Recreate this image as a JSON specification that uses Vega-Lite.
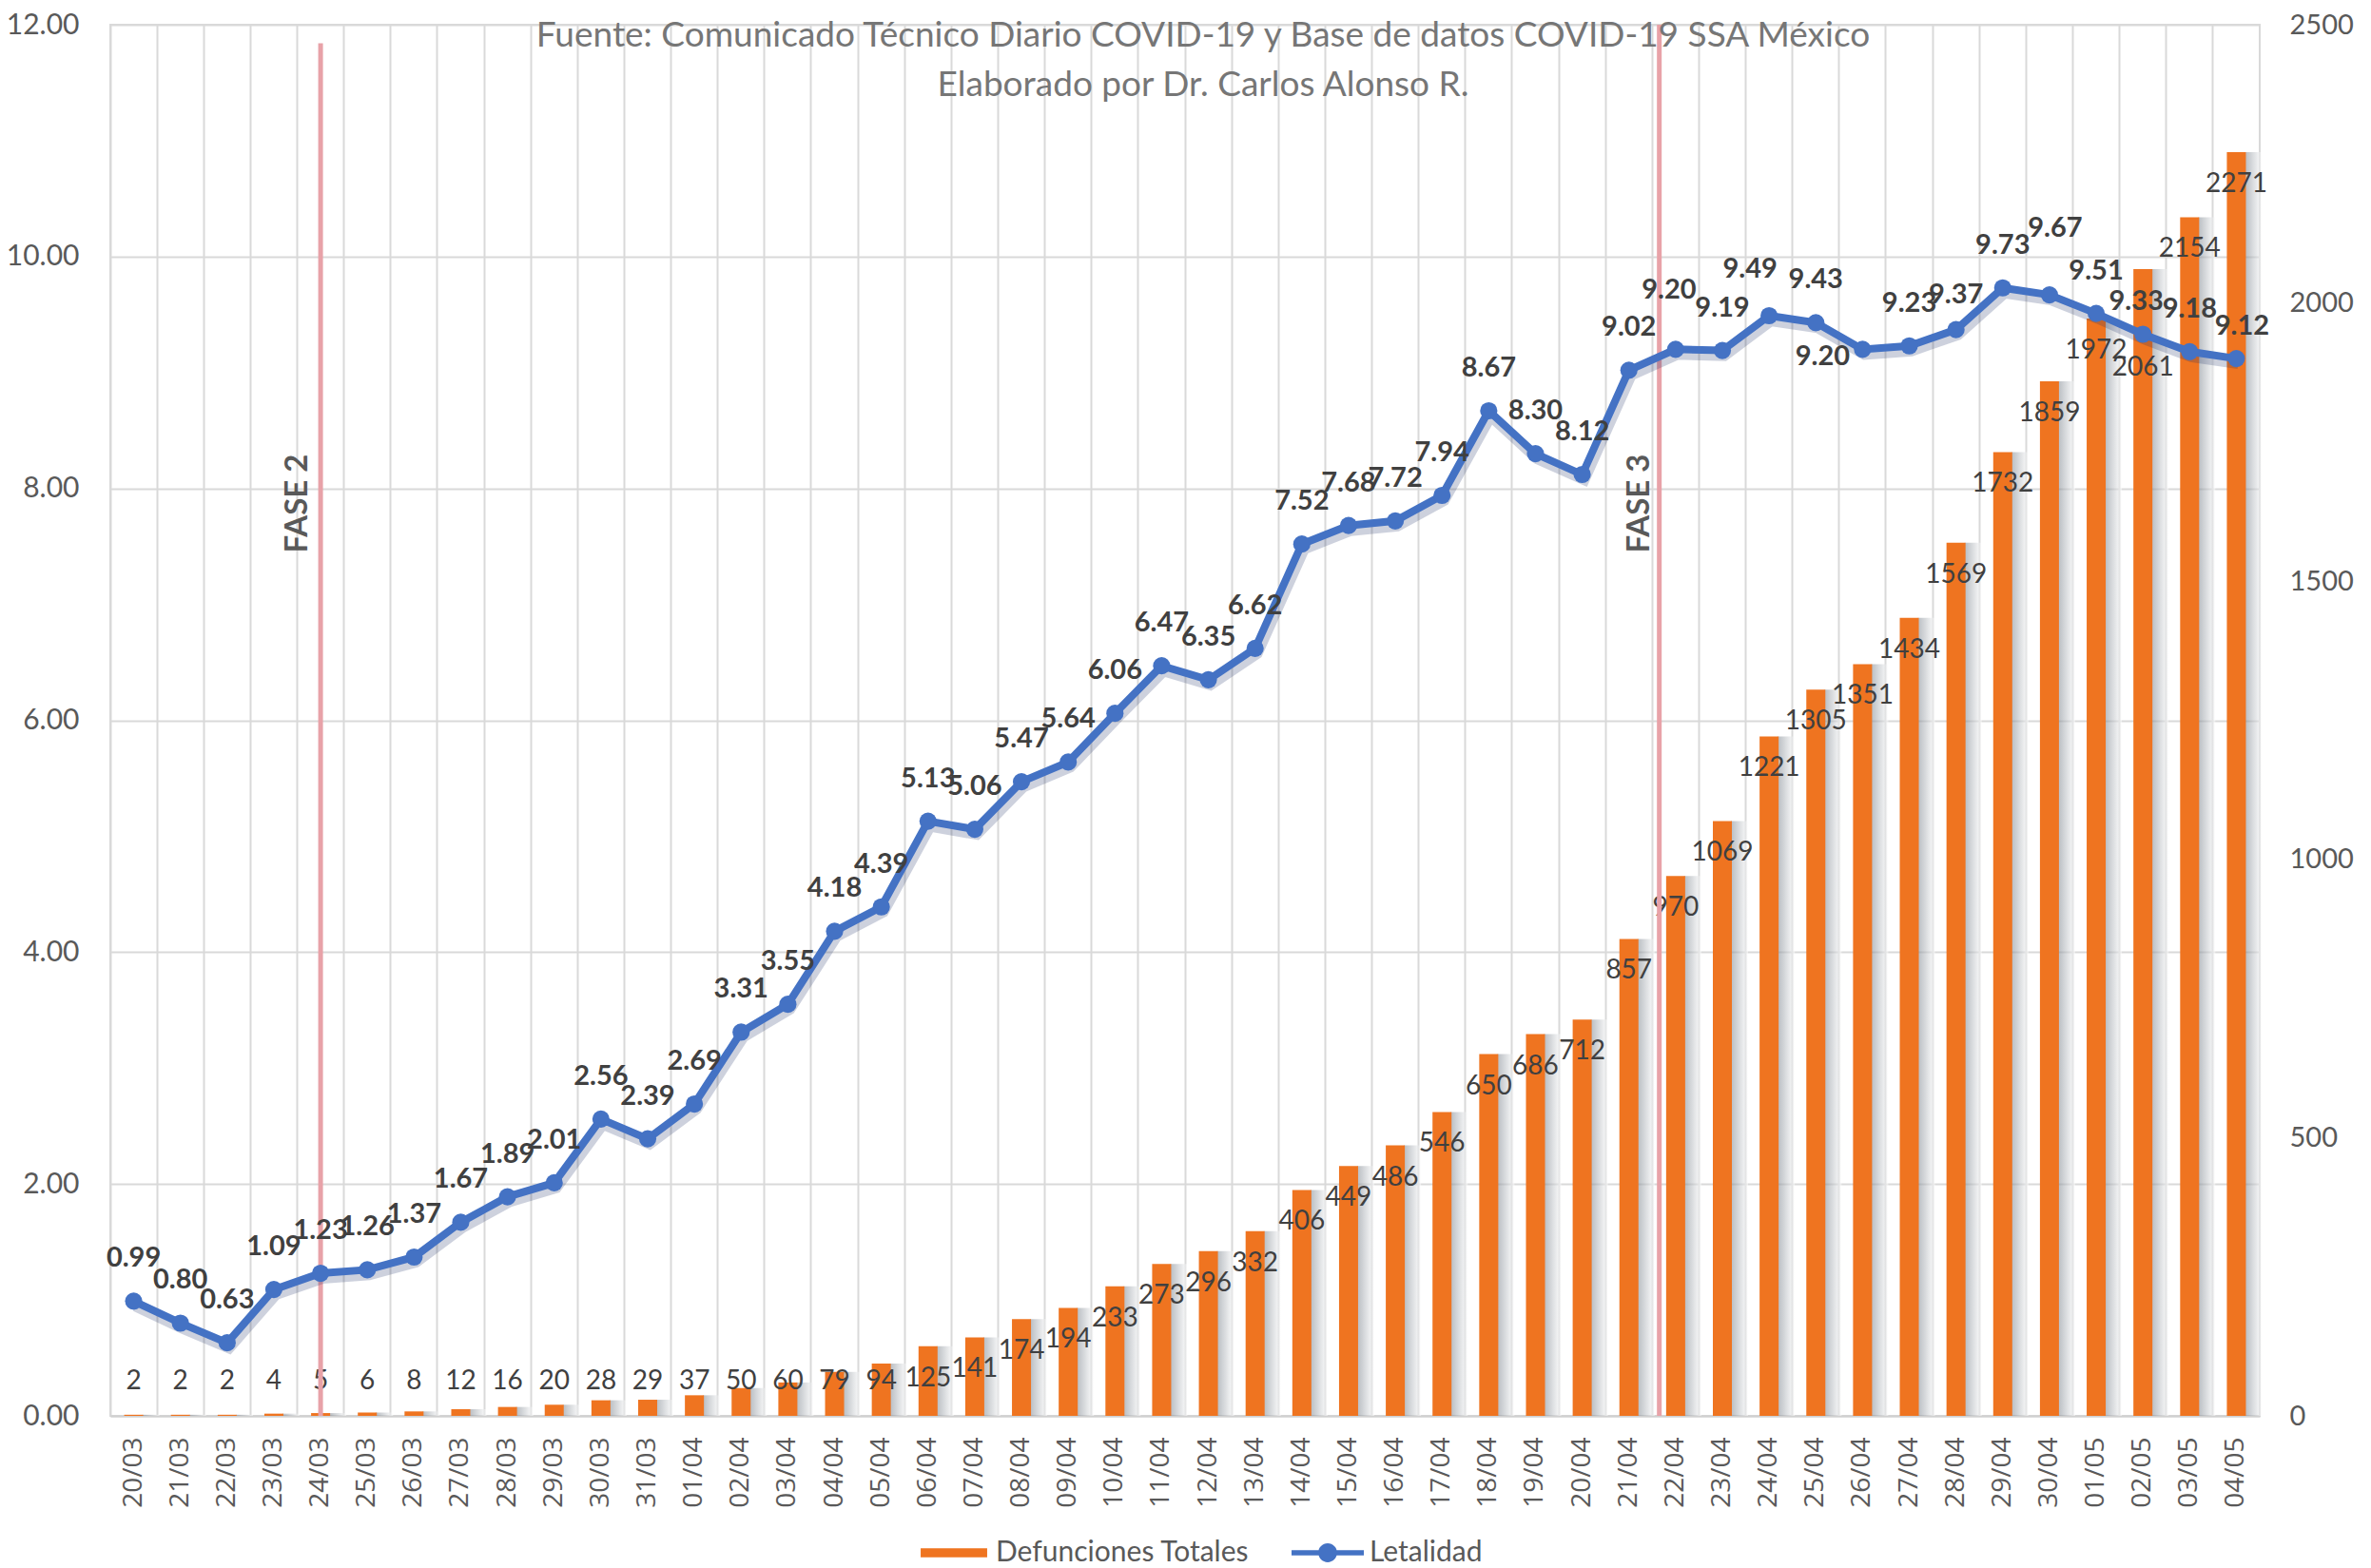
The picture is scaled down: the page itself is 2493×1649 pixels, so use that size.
{
  "$schema": "https://vega.github.io/schema/vega-lite/v6.json",
  "width": 2260,
  "height": 1463,
  "autosize": "none",
  "padding": {"left": 116, "top": 26, "right": 117, "bottom": 160},
  "background": "white",
  "config": {
    "font": "Lato",
    "view": {"stroke": "#d9d9d9", "strokeWidth": 2},
    "axis": {"labelColor": "#595959", "title": null, "ticks": false}
  },
  "title": {
    "text": ["Fuente: Comunicado Técnico Diario COVID-19 y Base de datos COVID-19 SSA México", "Elaborado por Dr. Carlos Alonso R."],
    "font": "Lato",
    "fontSize": 37,
    "fontWeight": "normal",
    "color": "#767676",
    "lineHeight": 52,
    "anchor": "middle",
    "baseline": "top",
    "offset": -98,
    "dx": 19
  },
  "datasets": {
    "main": [
      {"fecha": "20/03", "def": 2, "let": 0.99},
      {"fecha": "21/03", "def": 2, "let": 0.80},
      {"fecha": "22/03", "def": 2, "let": 0.63},
      {"fecha": "23/03", "def": 4, "let": 1.09},
      {"fecha": "24/03", "def": 5, "let": 1.23},
      {"fecha": "25/03", "def": 6, "let": 1.26},
      {"fecha": "26/03", "def": 8, "let": 1.37},
      {"fecha": "27/03", "def": 12, "let": 1.67},
      {"fecha": "28/03", "def": 16, "let": 1.89},
      {"fecha": "29/03", "def": 20, "let": 2.01},
      {"fecha": "30/03", "def": 28, "let": 2.56},
      {"fecha": "31/03", "def": 29, "let": 2.39},
      {"fecha": "01/04", "def": 37, "let": 2.69},
      {"fecha": "02/04", "def": 50, "let": 3.31},
      {"fecha": "03/04", "def": 60, "let": 3.55},
      {"fecha": "04/04", "def": 79, "let": 4.18},
      {"fecha": "05/04", "def": 94, "let": 4.39},
      {"fecha": "06/04", "def": 125, "let": 5.13},
      {"fecha": "07/04", "def": 141, "let": 5.06},
      {"fecha": "08/04", "def": 174, "let": 5.47},
      {"fecha": "09/04", "def": 194, "let": 5.64},
      {"fecha": "10/04", "def": 233, "let": 6.06},
      {"fecha": "11/04", "def": 273, "let": 6.47},
      {"fecha": "12/04", "def": 296, "let": 6.35},
      {"fecha": "13/04", "def": 332, "let": 6.62},
      {"fecha": "14/04", "def": 406, "let": 7.52},
      {"fecha": "15/04", "def": 449, "let": 7.68},
      {"fecha": "16/04", "def": 486, "let": 7.72},
      {"fecha": "17/04", "def": 546, "let": 7.94},
      {"fecha": "18/04", "def": 650, "let": 8.67},
      {"fecha": "19/04", "def": 686, "let": 8.30},
      {"fecha": "20/04", "def": 712, "let": 8.12},
      {"fecha": "21/04", "def": 857, "let": 9.02},
      {"fecha": "22/04", "def": 970, "let": 9.20},
      {"fecha": "23/04", "def": 1069, "let": 9.19},
      {"fecha": "24/04", "def": 1221, "let": 9.49},
      {"fecha": "25/04", "def": 1305, "let": 9.43},
      {"fecha": "26/04", "def": 1351, "let": 9.20},
      {"fecha": "27/04", "def": 1434, "let": 9.23},
      {"fecha": "28/04", "def": 1569, "let": 9.37},
      {"fecha": "29/04", "def": 1732, "let": 9.73},
      {"fecha": "30/04", "def": 1859, "let": 9.67},
      {"fecha": "01/05", "def": 1972, "let": 9.51},
      {"fecha": "02/05", "def": 2061, "let": 9.33},
      {"fecha": "03/05", "def": 2154, "let": 9.18},
      {"fecha": "04/05", "def": 2271, "let": 9.12}
    ],
    "fases": [
      {"fecha": "24/03", "fase": "FASE 2", "top": 11.84, "pos": 7.87},
      {"fecha": "22/04", "fase": "FASE 3", "top": 12, "pos": 7.87}
    ]
  },
  "data": {"name": "main"},
  "encoding": {
    "x": {
      "field": "fecha",
      "type": "nominal",
      "sort": null,
      "scale": {
        "domain": ["20/03","21/03","22/03","23/03","24/03","25/03","26/03","27/03","28/03","29/03","30/03","31/03","01/04","02/04","03/04","04/04","05/04","06/04","07/04","08/04","09/04","10/04","11/04","12/04","13/04","14/04","15/04","16/04","17/04","18/04","19/04","20/04","21/04","22/04","23/04","24/04","25/04","26/04","27/04","28/04","29/04","30/04","01/05","02/05","03/05","04/05"],
        "paddingInner": 0,
        "paddingOuter": 0
      },
      "axis": {
        "labelAngle": 270,
        "labelFont": "Open Sans",
        "labelFontSize": 28,
        "labelPadding": 22,
        "bandPosition": 0,
        "grid": true,
        "gridColor": "#d9d9d9",
        "gridWidth": 2,
        "domainColor": "#d0d0d0",
        "domainWidth": 2,
        "ticks": false
      }
    }
  },
  "layer": [
    {
      "encoding": {
        "y": {
          "field": "def",
          "type": "quantitative",
          "scale": {"domain": [0, 2500], "nice": false},
          "axis": {
            "orient": "right",
            "values": [0, 500, 1000, 1500, 2000, 2500],
            "format": "d",
            "grid": false,
            "domain": false,
            "labelFontSize": 29,
            "labelPadding": 31
          }
        }
      },
      "layer": [
        {
          "mark": {
            "type": "bar",
            "width": 18,
            "xOffset": 18,
            "opacity": 0.55,
            "color": {"gradient": "linear", "x1": 0, "x2": 1, "y1": 0, "y2": 0, "stops": [{"offset": 0, "color": "#7f8790"}, {"offset": 1, "color": "#ffffff"}]}
          }
        },
        {
          "mark": {"type": "bar", "width": 20},
          "encoding": {
            "color": {
              "datum": "Defunciones Totales",
              "scale": {"domain": ["Defunciones Totales", "Letalidad"], "range": ["#EF7420", "#4472C4"]},
              "legend": {
                "orient": "none",
                "legendX": 849,
                "legendY": 1569,
                "direction": "horizontal",
                "title": null,
                "symbolSize": 5776,
                "symbolStrokeWidth": 0,
                "labelFontSize": 30,
                "labelColor": "#595959",
                "labelLimit": 0,
                "labelOffset": 6,
                "columnPadding": 44,
                "padding": 0,
                "encode": {
                  "symbols": {
                    "update": {
                      "shape": {"signal": "datum.value === 'Letalidad' ? 'M-1,-0.07H1V0.07H-1Z M0.26,0A0.26,0.26 0 1,1 -0.26,0A0.26,0.26 0 1,1 0.26,0Z' : 'M-0.92,-0.125H0.92V0.125H-0.92Z'"},
                      "fill": {"signal": "datum.value === 'Letalidad' ? '#4472C4' : '#EF7420'"},
                      "strokeWidth": {"value": 0},
                      "opacity": {"value": 1}
                    }
                  }
                }
              }
            }
          }
        },
        {
          "transform": [{"filter": "datum.def >= 118 && datum.fecha !== '02/05'"}],
          "mark": {"type": "text", "fontSize": 28, "color": "#404040", "baseline": "middle", "dy": 34},
          "encoding": {"text": {"field": "def", "type": "quantitative", "format": "d"}}
        },
        {
          "transform": [{"filter": "datum.fecha === '02/05'"}],
          "mark": {"type": "text", "fontSize": 28, "color": "#404040", "baseline": "middle", "dy": 104},
          "encoding": {"text": {"field": "def", "type": "quantitative", "format": "d"}}
        },
        {
          "transform": [{"filter": "datum.def < 118"}],
          "mark": {"type": "text", "fontSize": 28, "color": "#404040", "baseline": "middle"},
          "encoding": {
            "y": {"datum": 61, "type": "quantitative"},
            "text": {"field": "def", "type": "quantitative", "format": "d"}
          }
        }
      ]
    },
    {
      "encoding": {
        "y": {
          "field": "let",
          "type": "quantitative",
          "scale": {"domain": [0, 12], "nice": false},
          "axis": {
            "orient": "left",
            "values": [0, 2, 4, 6, 8, 10, 12],
            "format": ".2f",
            "grid": true,
            "gridColor": "#d9d9d9",
            "gridWidth": 2,
            "domain": false,
            "labelFontSize": 30,
            "labelPadding": 33
          }
        }
      },
      "layer": [
        {
          "data": {"name": "fases"},
          "transform": [{"filter": "datum.fase === 'FASE 2'"}],
          "mark": {"type": "rule", "color": "#E8A2A8", "strokeWidth": 5},
          "encoding": {
            "y": {"field": "top", "type": "quantitative"},
            "y2": {"datum": 0}
          }
        },
        {
          "data": {"name": "fases"},
          "transform": [{"filter": "datum.fase === 'FASE 3'"}],
          "mark": {"type": "rule", "color": "#E8A2A8", "strokeWidth": 5},
          "encoding": {
            "x": {"field": "fecha", "type": "nominal", "bandPosition": 0.15},
            "y": {"field": "top", "type": "quantitative"},
            "y2": {"datum": 0}
          }
        },
        {
          "data": {"name": "fases"},
          "transform": [{"filter": "datum.fase === 'FASE 2'"}],
          "mark": {"type": "text", "angle": 270, "fontSize": 33, "fontWeight": "bold", "color": "#595959", "baseline": "middle", "dy": -24},
          "encoding": {
            "y": {"field": "pos", "type": "quantitative"},
            "text": {"field": "fase"}
          }
        },
        {
          "data": {"name": "fases"},
          "transform": [{"filter": "datum.fase === 'FASE 3'"}],
          "mark": {"type": "text", "angle": 270, "fontSize": 33, "fontWeight": "bold", "color": "#595959", "baseline": "middle", "dy": -21},
          "encoding": {
            "x": {"field": "fecha", "type": "nominal", "bandPosition": 0.15},
            "y": {"field": "pos", "type": "quantitative"},
            "text": {"field": "fase"}
          }
        },
        {
          "mark": {"type": "line", "color": "#1a2f66", "strokeWidth": 12, "opacity": 0.22, "yOffset": 5, "xOffset": 2}
        },
        {
          "mark": {"type": "line", "color": "#4472C4", "strokeWidth": 8}
        },
        {
          "mark": {"type": "point", "filled": true, "opacity": 1, "size": 330, "color": "#4472C4"}
        },
        {
          "transform": [{"filter": "indexof(['22/04','24/04','26/04','28/04','30/04','02/05','04/05'], datum.fecha) < 0"}],
          "mark": {"type": "text", "fontSize": 29, "fontWeight": "bold", "color": "#404040", "baseline": "middle", "dy": -45},
          "encoding": {"text": {"field": "let", "type": "quantitative", "format": ".2f"}}
        },
        {
          "transform": [{"filter": "datum.fecha === '22/04'"}],
          "mark": {"type": "text", "fontSize": 29, "fontWeight": "bold", "color": "#404040", "baseline": "middle", "dy": -62, "dx": -7},
          "encoding": {"text": {"field": "let", "type": "quantitative", "format": ".2f"}}
        },
        {
          "transform": [{"filter": "datum.fecha === '24/04'"}],
          "mark": {"type": "text", "fontSize": 29, "fontWeight": "bold", "color": "#404040", "baseline": "middle", "dy": -49, "dx": -20},
          "encoding": {"text": {"field": "let", "type": "quantitative", "format": ".2f"}}
        },
        {
          "transform": [{"filter": "datum.fecha === '26/04'"}],
          "mark": {"type": "text", "fontSize": 29, "fontWeight": "bold", "color": "#404040", "baseline": "middle", "dy": 8, "dx": -42},
          "encoding": {"text": {"field": "let", "type": "quantitative", "format": ".2f"}}
        },
        {
          "transform": [{"filter": "datum.fecha === '28/04'"}],
          "mark": {"type": "text", "fontSize": 29, "fontWeight": "bold", "color": "#404040", "baseline": "middle", "dy": -37},
          "encoding": {"text": {"field": "let", "type": "quantitative", "format": ".2f"}}
        },
        {
          "transform": [{"filter": "datum.fecha === '30/04'"}],
          "mark": {"type": "text", "fontSize": 29, "fontWeight": "bold", "color": "#404040", "baseline": "middle", "dy": -70, "dx": 6},
          "encoding": {"text": {"field": "let", "type": "quantitative", "format": ".2f"}}
        },
        {
          "transform": [{"filter": "datum.fecha === '02/05'"}],
          "mark": {"type": "text", "fontSize": 29, "fontWeight": "bold", "color": "#404040", "baseline": "middle", "dy": -35, "dx": -7},
          "encoding": {"text": {"field": "let", "type": "quantitative", "format": ".2f"}}
        },
        {
          "transform": [{"filter": "datum.fecha === '04/05'"}],
          "mark": {"type": "text", "fontSize": 29, "fontWeight": "bold", "color": "#404040", "baseline": "middle", "dy": -34, "dx": 6},
          "encoding": {"text": {"field": "let", "type": "quantitative", "format": ".2f"}}
        }
      ]
    }
  ],
  "resolve": {"scale": {"y": "independent"}}
}
